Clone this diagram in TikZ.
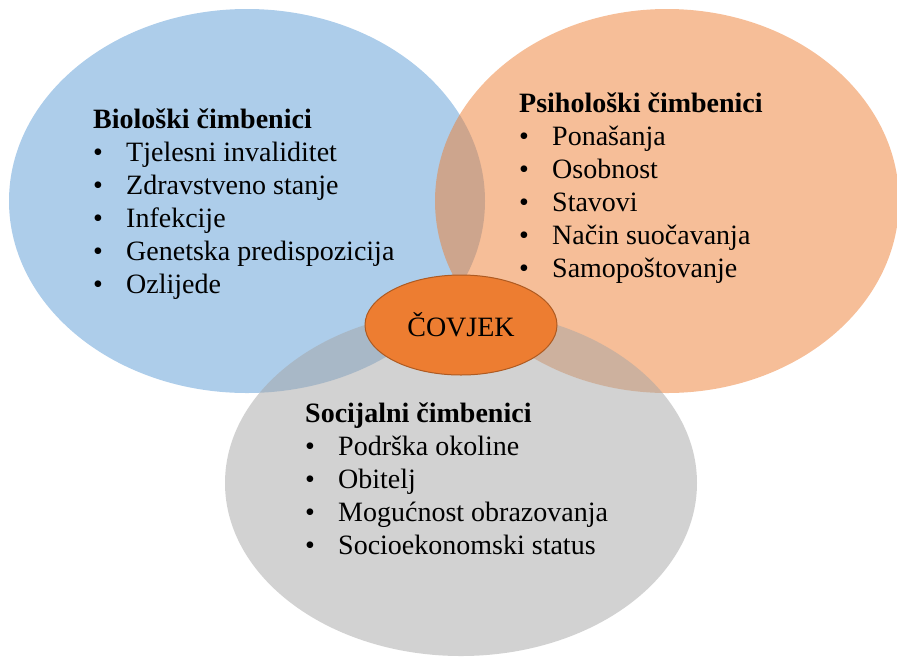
\documentclass[tikz,border=0pt]{standalone}
\usepackage{fontspec}
\setmainfont{Liberation Serif}
\usetikzlibrary{shapes.geometric}
\definecolor{bioblue}{HTML}{5B9BD5}
\definecolor{psyorange}{HTML}{ED7D31}
\definecolor{socgray}{HTML}{A5A5A5}
\definecolor{covjekrub}{HTML}{AE5A21}
\newcommand{\stavka}[1]{\makebox[33pt][l]{\textbullet}#1}

\begin{document}
\begin{tikzpicture}[x=1pt, y=-1pt,
		krug/.style={fill opacity=0.5},
		popis/.style={anchor=base west, inner sep=0pt, font=\fontsize{28}{33}\selectfont}]
				\useasboundingbox (0,0) rectangle (897,657);
				\fill[krug, bioblue] (247,201) ellipse [x radius=238, y radius=192];
				\fill[krug, psyorange] (667,201) ellipse [x radius=232, y radius=192];
				\fill[krug, socgray] (461,483) ellipse [x radius=236, y radius=173];
				\node[popis] (bio) at (93,128) {\begin{tabular}[t]{@{}l@{}}
						\textbf{Biološki čimbenici}\\
						\stavka{Tjelesni invaliditet}\\
						\stavka{Zdravstveno stanje}\\
						\stavka{Infekcije}\\
						\stavka{Genetska predispozicija}\\
						\stavka{Ozlijede}
					\end{tabular}};
				\node[popis] (psy) at (519,112) {\begin{tabular}[t]{@{}l@{}}
						\textbf{Psihološki čimbenici}\\
						\stavka{Ponašanja}\\
						\stavka{Osobnost}\\
						\stavka{Stavovi}\\
						\stavka{Način suočavanja}\\
						\stavka{Samopoštovanje}
					\end{tabular}};
				\node[popis] (soc) at (305,422) {\begin{tabular}[t]{@{}l@{}}
						\textbf{Socijalni čimbenici}\\
						\stavka{Podrška okoline}\\
						\stavka{Obitelj}\\
						\stavka{Mogućnost obrazovanja}\\
						\stavka{Socioekonomski status}
					\end{tabular}};
				\node[ellipse, draw=covjekrub, line width=1pt, fill=psyorange, inner sep=0pt,
					minimum width=192pt, minimum height=100pt, font=\fontsize{28}{33}\selectfont] (covjek) at (461,325) {ČOVJEK};
			\end{tikzpicture}
\end{document}
